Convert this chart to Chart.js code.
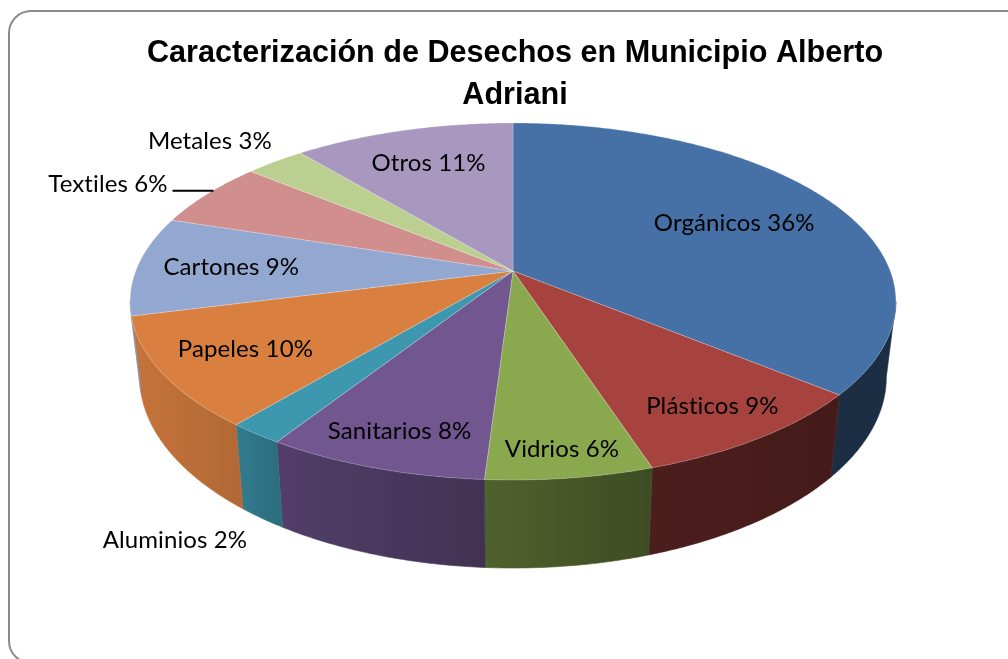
<!DOCTYPE html>
<html lang="es">
<head>
<meta charset="utf-8">
<title>Caracterización de Desechos en Municipio Alberto Adriani</title>
<script src="https://cdn.jsdelivr.net/npm/chart.js@4.4.1/dist/chart.umd.min.js"></script>
<style>
    html, body { margin: 0; padding: 0; background: #fff; overflow: hidden; }
    #wrap { position: relative; width: 1008px; height: 659px; }
    #frame {
        position: absolute; left: 8px; top: 10px; width: 1100px; height: 654px;
        border: 2px solid #8c8c8c; border-radius: 23px; box-sizing: border-box;
    }
    #chart { position: absolute; left: 0; top: 0; }
</style>
</head>
<body>
<div id="wrap">
    <div id="frame"></div>
    <canvas id="chart" width="1008" height="659"></canvas>
</div>
<script>
const categories = ["Orgánicos", "Plásticos", "Vidrios", "Sanitarios", "Aluminios", "Papeles", "Cartones", "Textiles", "Metales", "Otros"];
const percentages = [36, 9, 6, 8, 2, 10, 9, 6, 3, 11];
const sliceColors = ["#4571a7", "#a6433f", "#8aa84e", "#715690", "#3d97ae", "#d98040", "#93a8d0", "#d08e8d", "#bacf90", "#a898c0"];
const titleLines = ["Caracterización de Desechos en Municipio Alberto", "Adriani"];

// how each label sits: r = fraction of the radius, or an outside style
const labelSpots = [
    { r: 0.68 }, { r: 0.83 }, { r: 0.88 }, { r: 0.84 }, { out: "below" },
    { r: 0.78 }, { r: 0.75 }, { out: "leader" }, { out: "corner" }, { r: 0.74 },
];

// perspective view of the disc (screen px)
const VIEW = { cx: 513, cy: 271, a: 377.3, b: 173.3, k: 0.1708, depth: 73, shrink: 0.975 };
// side wall brightness by angle (deg) -> factor
const sideLight = [[0, 0.41], [55, 0.41], [72, 0.45], [94, 0.58], [122, 0.72], [128, 0.82], [170, 0.92], [180, 0.92]];

const proj = (u, v) => {
    const w = 1 - VIEW.k * v;
    return { x: VIEW.cx + VIEW.a * u / w, y: VIEW.cy + VIEW.b * v / w, w };
};
const edge = (t, r = 1) => proj(r * Math.cos(t), r * Math.sin(t));
const bottom = (t) => {
    const p = edge(t);
    return { x: VIEW.cx + VIEW.shrink * (p.x - VIEW.cx), y: p.y + VIEW.depth / p.w };
};

function lightAt(t) {
    const deg = t * 180 / Math.PI;
    for (let i = 1; i < sideLight.length; i += 1) {
        const [d0, f0] = sideLight[i - 1];
        const [d1, f1] = sideLight[i];
        if (deg <= d1) return f0 + (f1 - f0) * (deg - d0) / (d1 - d0);
    }
    return sideLight[sideLight.length - 1][1];
}

function shade(hex, f) {
    const n = parseInt(hex.slice(1), 16);
    const r = Math.round(((n >> 16) & 255) * f);
    const g = Math.round(((n >> 8) & 255) * f);
    const b = Math.round((n & 255) * f);
    return `rgb(${r},${g},${b})`;
}

const STEP = Math.PI / 360;

function drawLabels(chart) {
    const ctx = chart.ctx;
    const arcs = chart.getDatasetMeta(0).data;
    ctx.save();
    ctx.font = "24px Lato";
    // a touch of spacing keeps Lato from joining "ti"
    ctx.letterSpacing = "0.1px";
    ctx.fillStyle = "#000";
    ctx.textBaseline = "middle";
    arcs.forEach((arc, i) => {
        const text = `${categories[i]} ${percentages[i]}%`;
        const mid = (arc.startAngle + arc.endAngle) / 2;
        const spot = labelSpots[i];
        const w = ctx.measureText(text).width;
        ctx.textAlign = "center";
        if (!spot.out) {
            const p = edge(mid, spot.r);
            ctx.fillText(text, p.x, p.y);
        } else if (spot.out === "corner") {
            const p = edge(mid);
            const sx = Math.sign(p.x - VIEW.cx);
            const sy = Math.sign(p.y - VIEW.cy);
            ctx.fillText(text, p.x + sx * (w / 2 + 3), p.y + sy * 20);
        } else if (spot.out === "leader") {
            const p = edge(mid);
            ctx.beginPath();
            ctx.moveTo(p.x + 6, p.y - 3);
            ctx.lineTo(p.x - 35, p.y - 3);
            ctx.strokeStyle = "#000";
            ctx.lineWidth = 2;
            ctx.stroke();
            ctx.textAlign = "right";
            ctx.fillText(text, p.x - 40, p.y - 10);
        } else if (spot.out === "below") {
            const q = bottom(mid);
            ctx.fillText(text, q.x - w / 2 - 15, q.y + 22);
        }
    });
    ctx.restore();
}

const pie3d = {
    id: "pie3d",
    beforeDatasetsDraw(chart) {
        const ctx = chart.ctx;
        const arcs = chart.getDatasetMeta(0).data;
        const tR = Math.asin(VIEW.k);
        const tL = Math.PI - tR;

        ctx.save();
        // side walls of the front half
        arcs.forEach((arc) => {
            const a = Math.max(arc.startAngle, tR);
            const b = Math.min(arc.endAngle, tL);
            if (b <= a) return;
            const color = arc.options.backgroundColor;
            ctx.beginPath();
            for (let t = a; t < b; t += STEP) {
                const p = edge(t);
                t === a ? ctx.moveTo(p.x, p.y) : ctx.lineTo(p.x, p.y);
            }
            const pe = edge(b);
            ctx.lineTo(pe.x, pe.y);
            for (let t = b; t > a; t -= STEP) {
                const q = bottom(t);
                ctx.lineTo(q.x, q.y);
            }
            const qa = bottom(a);
            ctx.lineTo(qa.x, qa.y);
            ctx.closePath();
            const xa = edge(a).x;
            const xb = pe.x;
            const grad = ctx.createLinearGradient(Math.min(xa, xb), 0, Math.max(xa, xb) + 0.01, 0);
            const left = xa < xb ? a : b;
            const right = xa < xb ? b : a;
            grad.addColorStop(0, shade(color, lightAt(left)));
            grad.addColorStop(1, shade(color, lightAt(right)));
            ctx.fillStyle = grad;
            ctx.fill();
            ctx.strokeStyle = grad;
            ctx.lineWidth = 0.6;
            ctx.stroke();
        });

        // top faces
        arcs.forEach((arc) => {
            ctx.beginPath();
            ctx.moveTo(VIEW.cx, VIEW.cy);
            for (let t = arc.startAngle; t < arc.endAngle; t += STEP) {
                const p = edge(t);
                ctx.lineTo(p.x, p.y);
            }
            const pe = edge(arc.endAngle);
            ctx.lineTo(pe.x, pe.y);
            ctx.closePath();
            ctx.fillStyle = arc.options.backgroundColor;
            ctx.fill();
            ctx.strokeStyle = "rgba(255,255,255,0.22)";
            ctx.lineWidth = 1;
            ctx.stroke();
        });
        ctx.restore();
        return false;
    },
    afterDraw(chart) {
        drawLabels(chart);
    },
};

new Chart(document.getElementById("chart"), {
    type: "pie",
    data: {
        labels: categories,
        datasets: [{ data: percentages, backgroundColor: sliceColors, borderWidth: 0 }],
    },
    options: {
        responsive: false,
        animation: false,
        layout: { padding: { left: 22, right: 0, top: 0, bottom: 0 } },
        plugins: {
            legend: { display: false },
            tooltip: { enabled: false },
            title: {
                display: true,
                text: titleLines,
                color: "#000",
                font: { family: "'Liberation Sans', Arial, sans-serif", size: 30.6, weight: "bold", lineHeight: 1.37 },
                padding: { top: 33, bottom: 0 },
            },
        },
    },
    plugins: [pie3d],
});
</script>
</body>
</html>
